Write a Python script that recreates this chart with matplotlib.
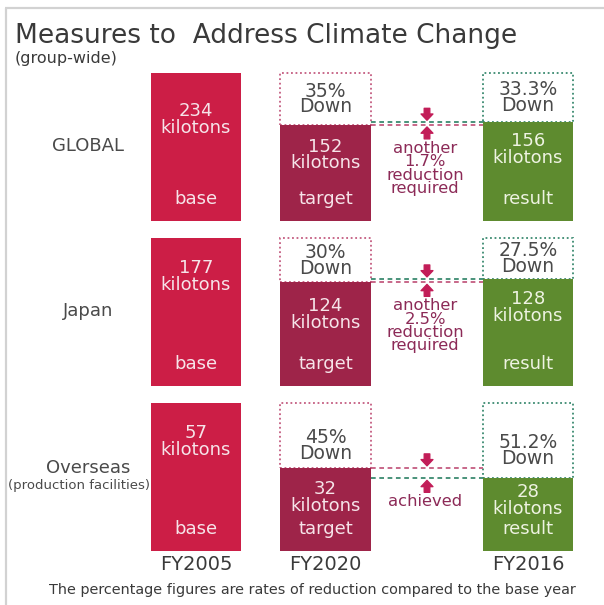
import matplotlib
matplotlib.use("Agg")
import matplotlib.pyplot as plt

# ---------------- data ----------------
regions = ["GLOBAL", "Japan", "Overseas"]
region_notes = ["", "", "(production facilities)"]
base_values = [234, 177, 57]
target_values = [152, 124, 32]
result_values = [156, 128, 28]
target_reductions = ["35%", "30%", "45%"]
result_reductions = ["33.3%", "27.5%", "51.2%"]
gap_notes = ["another\n1.7%\nreduction\nrequired",
             "another\n2.5%\nreduction\nrequired",
             "achieved"]
column_years = ["FY2005", "FY2020", "FY2016"]
column_roles = ["base", "target", "result"]
unit = "kilotons"
title = "Measures to  Address Climate Change"
subtitle = "(group-wide)"
footnote = "The percentage figures are rates of reduction compared to the base year"

# ---------------- layout / style ----------------
W, H = 604, 605
panel_tops = [73, 238, 403]
panel_h = 148
col_x = [196, 325.5, 528]
col_w = [90, 91, 90]
gap_x = 427
label_x = 88

BASE_C = "#CC1E46"
TARGET_C = "#9E2449"
RESULT_C = "#5E8B2F"
TARGET_DOT = "#C45C80"
RESULT_DOT = "#3A8A70"
NOTE_C = "#8C2A57"
ARROW_C = "#C21D58"
LIGHT_RED_TXT = "#F6E4E9"
LIGHT_GRN_TXT = "#EEF3E2"
GREY_TXT = "#4A4A4A"

value_offsets = [[29, 13, 10], [21, 15, 11], [21, 12, 5]]   # px below bar top
down_offsets = [0, 0, -10]
FONT = ["DejaVu Sans"]

plt.rcParams["font.family"] = FONT

fig = plt.figure(figsize=(W / 100, H / 100), dpi=100)
fig.patch.set_facecolor("white")

ax0 = fig.add_axes([0, 0, 1, 1])
ax0.set_xlim(0, W)
ax0.set_ylim(H, 0)
ax0.axis("off")

# frame
ax0.plot([5, W], [8, 8], color="#d2d2d2", lw=1.6, solid_capstyle="butt")
ax0.plot([6, 6], [8, H], color="#d2d2d2", lw=1.6, solid_capstyle="butt")

ax0.text(15, 43, title, fontsize=19, color="#3a3a3a", ha="left", va="baseline")
ax0.text(15, 59, subtitle, fontsize=11.5, color="#3a3a3a", ha="left", va="center")
ax0.text(312, 590, footnote, fontsize=10.4, color="#3a3a3a", ha="center", va="center")

for i in range(3):
    top = panel_tops[i]
    ax = fig.add_axes([0, 1 - (top + panel_h) / H, 1, panel_h / H])
    ax.set_xlim(0, W)
    ax.set_ylim(0, base_values[i])
    ax.axis("off")
    base, tgt, res = base_values[i], target_values[i], result_values[i]
    vals = [base, tgt, res]

    # dotted outline boxes showing the base level
    ax.bar(col_x[1:], [base - tgt, base - res], bottom=[tgt, res], width=col_w[1:],
           fill=False, edgecolor=[TARGET_DOT, RESULT_DOT], linestyle=(0, (1, 1.5)),
           linewidth=1.3, zorder=1, clip_on=False)
    # solid bars
    ax.bar(col_x, vals, width=col_w, color=[BASE_C, TARGET_C, RESULT_C],
           zorder=2, clip_on=False)

    # connecting dashed lines
    x_left = col_x[1] + col_w[1] / 2
    x_right = col_x[2] - col_w[2] / 2
    ax.hlines(tgt, x_left, x_right, colors=TARGET_DOT, linestyles=(0, (2.6, 2)),
              lw=1.3, zorder=1, clip_on=False)
    ax.hlines(res, x_left, x_right, colors=RESULT_DOT, linestyles=(0, (2.6, 2)),
              lw=1.3, zorder=1, clip_on=False)

    upper, lower = max(tgt, res), min(tgt, res)
    aprops = dict(arrowstyle="simple,head_length=0.45,head_width=0.85,tail_width=0.4",
                  mutation_scale=10, color=ARROW_C, shrinkA=0, shrinkB=1.5)
    ax.annotate("", xy=(gap_x, upper), xytext=(0, 14), textcoords="offset pixels",
                arrowprops=aprops, annotation_clip=False)
    ax.annotate("", xy=(gap_x, lower), xytext=(0, -14), textcoords="offset pixels",
                arrowprops=aprops, annotation_clip=False)

    ax.annotate(gap_notes[i], xy=(gap_x - 2, lower), xytext=(0, -16),
                textcoords="offset pixels", ha="center", va="top", fontsize=11.8,
                color=NOTE_C, linespacing=0.86, annotation_clip=False)

    # texts inside bars
    txt_colors = [LIGHT_RED_TXT, LIGHT_RED_TXT, LIGHT_GRN_TXT]
    for j in range(3):
        ax.annotate(f"{vals[j]}\n{unit}", xy=(col_x[j], vals[j]),
                    xytext=(0, -value_offsets[i][j]), textcoords="offset pixels",
                    ha="center", va="top", fontsize=13, color=txt_colors[j],
                    linespacing=0.9, zorder=3, annotation_clip=False)
        ax.annotate(column_roles[j], xy=(col_x[j], 0), xytext=(0, 22),
                    textcoords="offset pixels", ha="center", va="center",
                    fontsize=13, color=txt_colors[j], zorder=3, annotation_clip=False)

    # "x% Down" inside dotted boxes
    for j, (lvl, lab) in enumerate([(tgt, target_reductions[i]), (res, result_reductions[i])]):
        ax.annotate(f"{lab}\nDown", xy=(col_x[j + 1], (lvl + base) / 2),
                    xytext=(0, down_offsets[i]), textcoords="offset pixels",
                    ha="center", va="center", fontsize=13.5, color=GREY_TXT,
                    linespacing=0.78, annotation_clip=False)

    # row labels
    xt = ax.get_xaxis_transform()
    if region_notes[i]:
        ax.text(label_x, 0.56, regions[i], transform=xt, ha="center", va="center",
                fontsize=13, color=GREY_TXT)
        ax.text(label_x - 9, 0.445, region_notes[i], transform=xt, ha="center",
                va="center", fontsize=9.5, color=GREY_TXT)
    else:
        ax.text(label_x, 0.51, regions[i], transform=xt, ha="center", va="center",
                fontsize=13, color=GREY_TXT)

    if i == 2:
        for j in range(3):
            ax.annotate(column_years[j], xy=(col_x[j], 0), xytext=(0, -13),
                        textcoords="offset pixels", ha="center", va="center",
                        fontsize=14, color="#3a3a3a", annotation_clip=False)

fig.savefig("out.png", dpi=100, facecolor="white")
